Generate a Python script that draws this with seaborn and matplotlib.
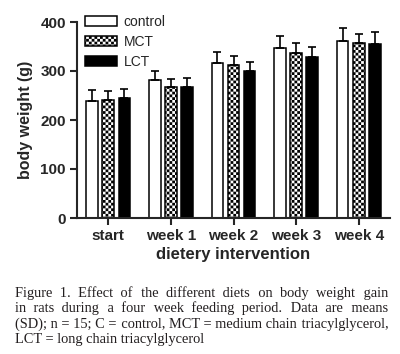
import matplotlib
matplotlib.use('Agg')
import matplotlib.hatch as mhatch
import matplotlib.pyplot as plt
import numpy as np
import pandas as pd
import seaborn as sns
from matplotlib.path import Path

times = ['start', 'week 1', 'week 2', 'week 3', 'week 4']
diets = ['control', 'MCT', 'LCT']
control_mean = [239, 282, 316, 347, 362]
control_sd = [22, 18, 23, 25, 26]
mct_mean = [241, 267, 312, 337, 357]
mct_sd = [18, 17, 19, 20, 18]
lct_mean = [245, 268, 300, 328, 355]
lct_sd = [18, 17, 18, 21, 25]

caption = [
    'Figure 1. Effect of the different diets on body weight gain',
    'in rats during a four week feeding period. Data are means',
    '(SD); n = 15; C = control, MCT = medium chain triacylglycerol,',
    'LCT = long chain triacylglycerol',
]


# checkerboard fill for the MCT bars, used in place of the 'O' hatch
class CheckerHatch(mhatch.HatchPatternBase):
    def __init__(self, hatch, density):
        self.n = hatch.count('O') * density * 2
        self.num_vertices = (self.n * self.n // 2) * 5

    def set_vertices_and_codes(self, vertices, codes):
        s = 1.0 / self.n
        sq = np.array([[0, 0], [s, 0], [s, s], [0, s], [0, 0]])
        sq_codes = [Path.MOVETO, Path.LINETO, Path.LINETO, Path.LINETO, Path.CLOSEPOLY]
        k = 0
        for i in range(self.n):
            for j in range(self.n):
                if (i + j) % 2 == 0:
                    vertices[k:k + 5] = sq + [i * s, j * s]
                    codes[k:k + 5] = sq_codes
                    k += 5


mhatch._hatch_types[:] = [t for t in mhatch._hatch_types if t is not mhatch.LargeCircles]
mhatch._hatch_types.append(CheckerHatch)

sns.set_style('ticks')
plt.rcParams['font.family'] = ['Liberation Sans', 'DejaVu Sans']
plt.rcParams['hatch.color'] = 'black'
plt.rcParams['hatch.linewidth'] = 0.0

df = pd.DataFrame({
    'time': times * 3,
    'diet': [d for d in diets for _ in times],
    'weight': control_mean + mct_mean + lct_mean,
})

fig = plt.figure(figsize=(4.0, 3.54), dpi=100)
ax = fig.add_axes([77 / 400, 1 - 218 / 354, 313 / 400, 196 / 354])

sns.barplot(data=df, x='time', y='weight', hue='diet', hue_order=diets,
            palette=['white', 'white', 'black'], edgecolor='black',
            linewidth=1.1, width=0.77, gap=0.27, errorbar=None,
            legend=False, ax=ax)

for bar in ax.containers[1]:
    bar.set_hatch('OOO')

for cont, sd in zip(ax.containers, [control_sd, mct_sd, lct_sd]):
    xs = [b.get_x() + b.get_width() / 2 for b in cont]
    ys = [b.get_height() for b in cont]
    ax.errorbar(xs, ys, yerr=[np.zeros(len(sd)), sd], fmt='none',
                ecolor='black', elinewidth=1.2, capsize=3, capthick=1.2,
                zorder=3)

ax.set_xlim(-0.5, 4.5)
ax.set_ylim(0, 400)
ax.set_yticks([0, 100, 200, 300, 400])
sns.despine(ax=ax)
for side in ['left', 'bottom']:
    ax.spines[side].set_linewidth(1.5)
ax.tick_params(axis='both', length=5, width=1.5, labelsize=11, pad=3)
for lab in ax.get_xticklabels() + ax.get_yticklabels():
    lab.set_fontweight('bold')
ax.set_xlabel('dietery intervention', fontsize=12, fontweight='bold', labelpad=3)
ax.set_ylabel('body weight (g)', fontsize=11.5, fontweight='bold', labelpad=5)

ax.legend(ax.containers, diets, loc='upper left', bbox_to_anchor=(0.027, 1.037),
          frameon=False, fontsize=10, handlelength=2.3, handleheight=0.72,
          labelspacing=0.43, handletextpad=0.45, borderpad=0, borderaxespad=0)

# justified caption: each line is one text, padded with hair spaces
renderer = fig.canvas.get_renderer()
cap_font = dict(family=['Liberation Serif', 'DejaVu Serif'], fontsize=10.4,
                color='#231f20')


def text_width(s):
    t = fig.text(0, 0, s, **cap_font)
    w = t.get_window_extent(renderer).width
    t.remove()
    return w


hair = (text_width('x' + '\u200a' * 20 + 'x') - text_width('xx')) / 20
left, right = 15, 388
baselines = [297, 312, 328, 343]
for i, (line, yb) in enumerate(zip(caption, baselines)):
    words = line.split(' ')
    s = line
    if i < len(caption) - 1 and hair > 0:
        k = max(0, round((right - left - text_width(line)) / hair))
        gaps = len(words) - 1
        s = words[0]
        for j, w in enumerate(words[1:]):
            n = k * (j + 1) // gaps - k * j // gaps
            s += ' ' + '\u200a' * n + w
    fig.text(left / 400, 1 - yb / 354, s, va='baseline', ha='left', **cap_font)

fig.savefig('out.png', dpi=100)
